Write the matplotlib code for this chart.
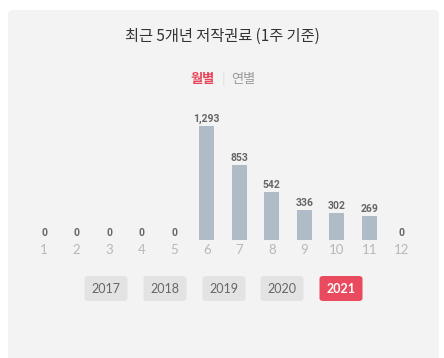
import matplotlib.pyplot as plt
from matplotlib.patches import FancyBboxPatch

plt.rcParams['font.family'] = ['Noto Sans CJK KR', 'DejaVu Sans']

# data
months = [1, 2, 3, 4, 5, 6, 7, 8, 9, 10, 11, 12]
counts = [0, 0, 0, 0, 0, 1293, 853, 542, 336, 302, 269, 0]
years = ['2017', '2018', '2019', '2020', '2021']
active_year = '2021'

W, H = 444, 358
fig = plt.figure(figsize=(W / 100, H / 100), dpi=100)
fig.patch.set_facecolor('white')

# light gray card behind everything
card = FancyBboxPatch((8 / W, -10 / H), 431 / W, 358 / H,
                      boxstyle='round,pad=0,rounding_size=0.012',
                      transform=fig.transFigure, fc='#f3f3f3', ec='none', zorder=-5)
fig.patches.append(card)

fig.text(222 / W, 1 - 36 / H, '최근 5개년 저작권료 (1주 기준)', ha='center', va='center',
         fontsize=11, color='#333333', fontweight='medium')
fig.text(215 / W, 1 - 79 / H, '월별', ha='right', va='center', fontsize=9.5,
         color='#e8455a', fontweight='bold')
fig.text(223 / W, 1 - 79 / H, '|', ha='center', va='center', fontsize=9.5, color='#dddddd')
fig.text(231 / W, 1 - 79 / H, '연별', ha='left', va='center', fontsize=9.5, color='#9a9a9a')

# bar chart
ax = fig.add_axes([27.75 / W, 118 / H, 390.5 / W, 130 / H])
ax.set_zorder(3)
ax.set_facecolor('none')
ax.bar(months, counts, width=0.46, color='#b0bbc8')
for m, c in zip(months, counts):
    ax.text(m, c + 25, f'{c:,}', ha='center', va='bottom', fontsize=7.5,
            fontweight='bold', color='#666666', family=['Roboto', 'DejaVu Sans'])
ax.set_xlim(0.5, 12.5)
ax.set_ylim(0, 1474)
ax.set_xticks(months)
ax.set_xticklabels([str(m) for m in months], family=['Lato', 'DejaVu Sans'])
ax.tick_params(axis='x', length=0, pad=3, labelsize=9.5, labelcolor='#b8b8b8')
ax.set_yticks([])
for s in ax.spines.values():
    s.set_visible(False)

# year buttons
centers = [106, 165, 224, 282, 341]
for yr, cx in zip(years, centers):
    on = yr == active_year
    btn = FancyBboxPatch(((cx - 21.5) / W, 1 - 301 / H), 43 / W, 25 / H,
                         boxstyle='round,pad=0,rounding_size=0.008',
                         transform=fig.transFigure,
                         fc='#ea4a5e' if on else '#e3e3e3', ec='none', zorder=1)
    fig.patches.append(btn)
    fig.text(cx / W, 1 - 289 / H, yr, ha='center', va='center', fontsize=9,
             color='white' if on else '#666666', fontweight='bold' if on else 'normal',
             family=['Lato', 'DejaVu Sans'], zorder=2)

fig.savefig('out.png', dpi=100, facecolor='white')
